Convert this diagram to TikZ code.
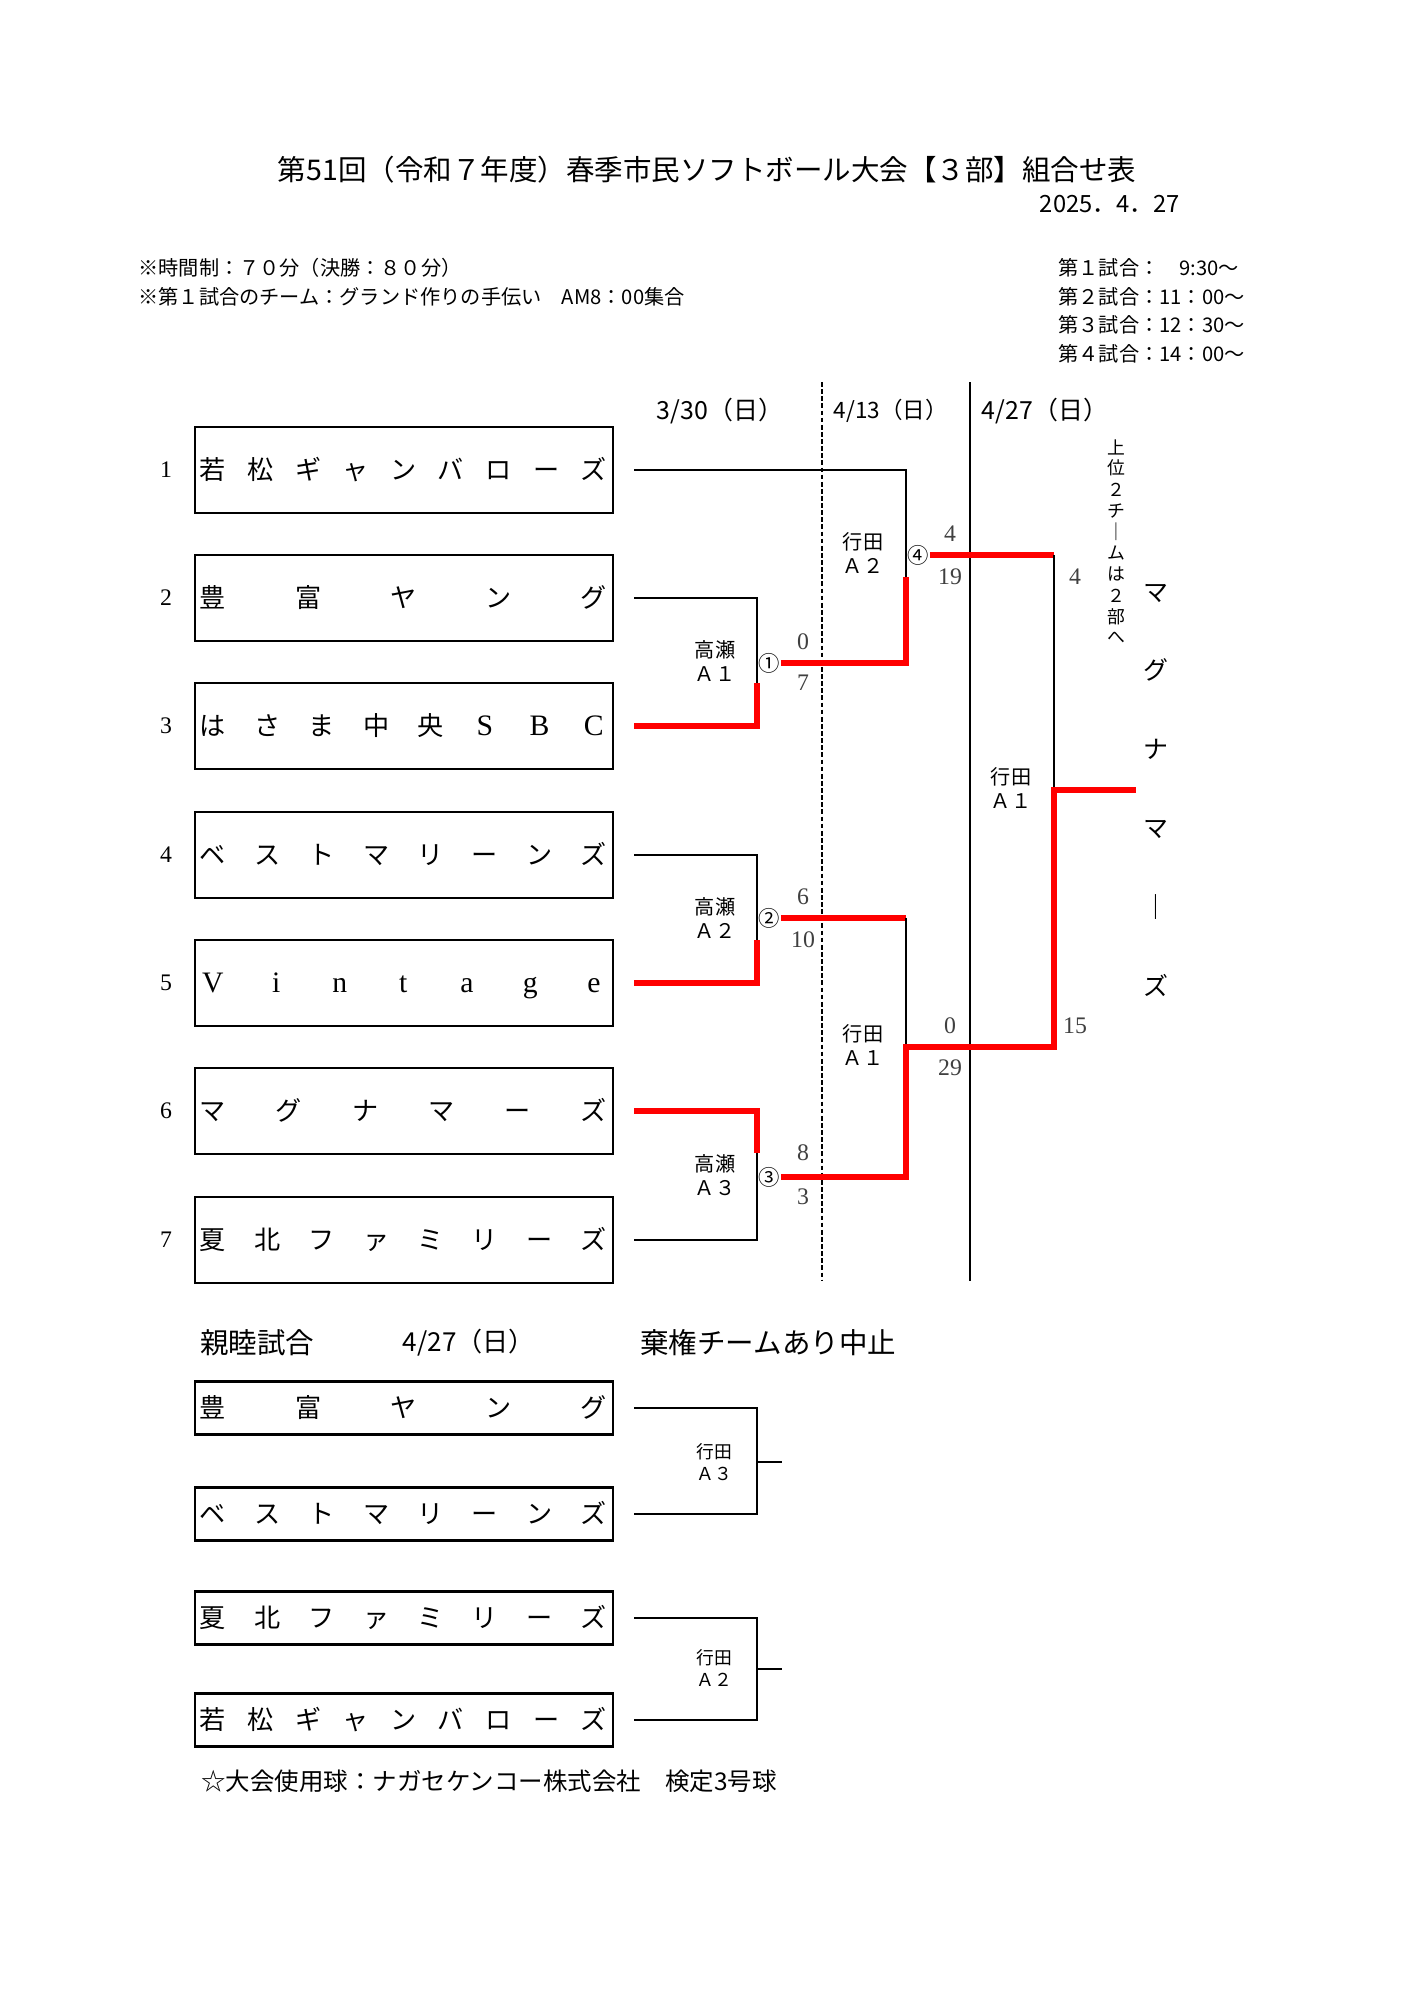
\documentclass[tikz,border=0pt]{standalone}
\usepackage{fontspec}
\setmainfont{Liberation Serif}
\newfontfamily\jp{Noto Sans CJK JP}
\usetikzlibrary{positioning}

\newcommand\jpsize[2]{\jp\fontsize{#1}{#2}\selectfont}
\newcommand\latin[1]{{\rmfamily\fontsize{12.5}{14}\selectfont #1}}
% spread the letters of a name over its box
\newcommand\spreadname[3]{%
  \foreach \ch [count=\k] in {#3}
    \path (#1.west) ++({19+(\k-1)*381/(#2-1)},0) node[namech] (#1c\k) {\ch};
}

\begin{document}
\begin{tikzpicture}[x=0.4211pt, y=-0.4211pt,
    team/.style={draw, line width=1pt, minimum width=176pt, minimum height=36.2pt, inner sep=0pt},
    friend/.style={team, minimum height=22.3pt},
    namech/.style={font=\jpsize{11}{13}, inner sep=0pt, text height=0.88em, text depth=0.12em},
    num/.style={font=\fontsize{10}{12}\selectfont},
    link/.style={line width=0.8pt},
    win/.style={line width=2.5pt, red},
    venue/.style={font=\jpsize{8.5}{10}, align=center, inner sep=0pt},
    score/.style={font=\fontsize{10}{11}\selectfont, text=black!75, inner sep=0pt},
    game/.style={font=\jpsize{9}{11}, inner sep=0.3pt},
    note/.style={font=\jpsize{8.5}{10}, anchor=west, inner sep=0pt},
    day/.style={font=\jpsize{10.5}{12}, inner sep=0pt},
    tate/.style={font=\jpsize{7.5}{9}, inner sep=0pt}]

    \fill[white] (0,0) rectangle (1414,2000);
    \useasboundingbox (0,0) rectangle (1414,2000);

    % Heading
    \node[font=\jpsize{12}{14}] (title) at (707,170) {第51回（令和７年度）春季市民ソフトボール大会【３部】組合せ表};
    \node[font=\jpsize{10}{12}, anchor=east] (date) at (1188,204) {2025．4．27};
    \node[note] (note1) at (138,268) {※時間制：７０分（決勝：８０分）};
    \node[note] (note2) at (138,297) {※第１試合のチーム：グランド作りの手伝い　AM8：00集合};
    \node[note] (time1) at (1058,268) {第１試合：　9:30〜};
    \node[note] (time2) at (1058,297) {第２試合：11：00〜};
    \node[note] (time3) at (1058,325) {第３試合：12：30〜};
    \node[note] (time4) at (1058,354) {第４試合：14：00〜};

    % Days
    \node[day] (day1) at (720,411) {3/30（日）};
    \node[day, font=\jpsize{9.5}{11}] (day2) at (891,411) {4/13（日）};
    \node[day] (day3) at (1045,411) {4/27（日）};
    \draw[dash pattern=on 2pt off 1pt, line width=0.6pt] (822,382) -- (822,1281);
    \draw[line width=0.6pt] (970,382) -- (970,1281);

    % Teams
    \foreach \i/\y in {1/470,2/598,3/726,4/855,5/983,6/1111,7/1240} {
        \node[team] (t\i) at (404,\y) {};
        \node[num] (n\i) at (166,\y) {\i};
        \coordinate (s\i) at (634,\y);
    }
    \spreadname{t1}{9}{若,松,ギ,ャ,ン,バ,ロ,ー,ズ}
    \spreadname{t2}{5}{豊,富,ヤ,ン,グ}
    \spreadname{t3}{8}{は,さ,ま,中,央,\latin S,\latin B,\latin C}
    \spreadname{t4}{8}{ベ,ス,ト,マ,リ,ー,ン,ズ}
    \spreadname{t5}{7}{\latin V,\latin i,\latin n,\latin t,\latin a,\latin g,\latin e}
    \spreadname{t6}{6}{マ,グ,ナ,マ,ー,ズ}
    \spreadname{t7}{8}{夏,北,フ,ァ,ミ,リ,ー,ズ}

    % First round
    \coordinate (b1) at (757,683);
    \coordinate (b2) at (757,940);
    \coordinate (b3) at (757,1153);
    \draw[link] (s2) -| (b1);
    \draw[win] (s3) -| (b1);
    \draw[link] (s4) -| (b2);
    \draw[win] (s5) -| (b2);
    \draw[win] (s6) -| (b3);
    \draw[link] (s7) -| (b3);
    \node[game] (m1) at (769,663) {①};
    \node[game] (m2) at (769,918) {②};
    \node[game] (m3) at (769,1177) {③};
    \node[venue] (v1) at (715,661) {高瀬\\Ａ１};
    \node[venue] (v2) at (715,918) {高瀬\\Ａ２};
    \node[venue] (v3) at (715,1175) {高瀬\\Ａ３};

    % Second round
    \coordinate (b4) at (906,577);
    \coordinate (b5) at (906,1047);
    \coordinate (c2) at (906,918);
    \draw[link] (s1) -| (b4);
    \draw[win] (m1) -| (b4);
    \draw[win] (m2) -- (c2);
    \draw[link] (c2) -- (b5);
    \node[game] (m4) at (918,555) {④};
    \node[venue] (v4) at (863,553) {行田\\Ａ２};
    \node[venue] (v5) at (863,1045) {行田\\Ａ１};

    % Final
    \coordinate (c4) at (1054,555);
    \coordinate (b6) at (1054,790);
    \coordinate (top) at (1136,790);
    \draw[win] (m4) -- (c4);
    \draw[link] (c4) -- (b6);
    \draw[win] (m3) -| (b5) -| (b6) -- (top);
    \node[venue] (v6) at (1011,788) {行田\\Ａ１};

    % Scores
    \foreach \n/\x/\y/\s in {p1/803/642/0, p2/803/683/7, p3/803/897/6, p4/803/940/10,
        p5/803/1153/8, p6/803/1197/3, p7/950/534/4, p8/950/577/19,
        p9/950/1026/0, p10/950/1068/29, p11/1075/577/4, p12/1075/1026/15}
        \node[score] (\n) at (\x,\y) {\s};

    % Upright texts
    \foreach \ch [count=\k] in {上,位,２,チ,｜,ム,は,２,部,へ}
        \node[tate] (up\k) at (1116,{447+(\k-1)*21.2}) {\ch};
    \foreach \ch [count=\k] in {マ,グ,ナ,マ,｜,ズ}
        \node[namech, font=\jpsize{10.5}{12}] (champ\k) at (1156,{592+(\k-1)*78.8}) {\ch};

    % Friendly games
    \node[font=\jpsize{12}{14}, anchor=west, inner sep=0pt] (fr) at (200,1343) {親睦試合};
    \node[day, font=\jpsize{11}{13}] (frday) at (469,1343) {4/27（日）};
    \node[font=\jpsize{12}{14}, anchor=west, inner sep=0pt] (cancel) at (640,1343) {棄権チームあり中止};
    \foreach \i/\y in {1/1408,2/1514,3/1618,4/1720} {
        \node[friend] (f\i) at (404,\y) {};
        \coordinate (fs\i) at (634,\y);
    }
    \spreadname{f1}{5}{豊,富,ヤ,ン,グ}
    \spreadname{f2}{8}{ベ,ス,ト,マ,リ,ー,ン,ズ}
    \spreadname{f3}{8}{夏,北,フ,ァ,ミ,リ,ー,ズ}
    \spreadname{f4}{9}{若,松,ギ,ャ,ン,バ,ロ,ー,ズ}
    \coordinate (g1) at (757,1462);
    \coordinate (h1) at (782,1462);
    \coordinate (g2) at (757,1669);
    \coordinate (h2) at (782,1669);
    \draw[link] (fs1) -| (g1) |- (fs2);
    \draw[link] (g1) -- (h1);
    \draw[link] (fs3) -| (g2) |- (fs4);
    \draw[link] (g2) -- (h2);
    \node[venue, font=\jpsize{7.5}{9}] (v7) at (714,1462) {行田\\Ａ３};
    \node[venue, font=\jpsize{7.5}{9}] (v8) at (714,1668) {行田\\Ａ２};

    \node[note, font=\jpsize{10.3}{12}] (ball) at (201,1781) {☆大会使用球：ナガセケンコー株式会社　検定3号球};
\end{tikzpicture}
\end{document}
